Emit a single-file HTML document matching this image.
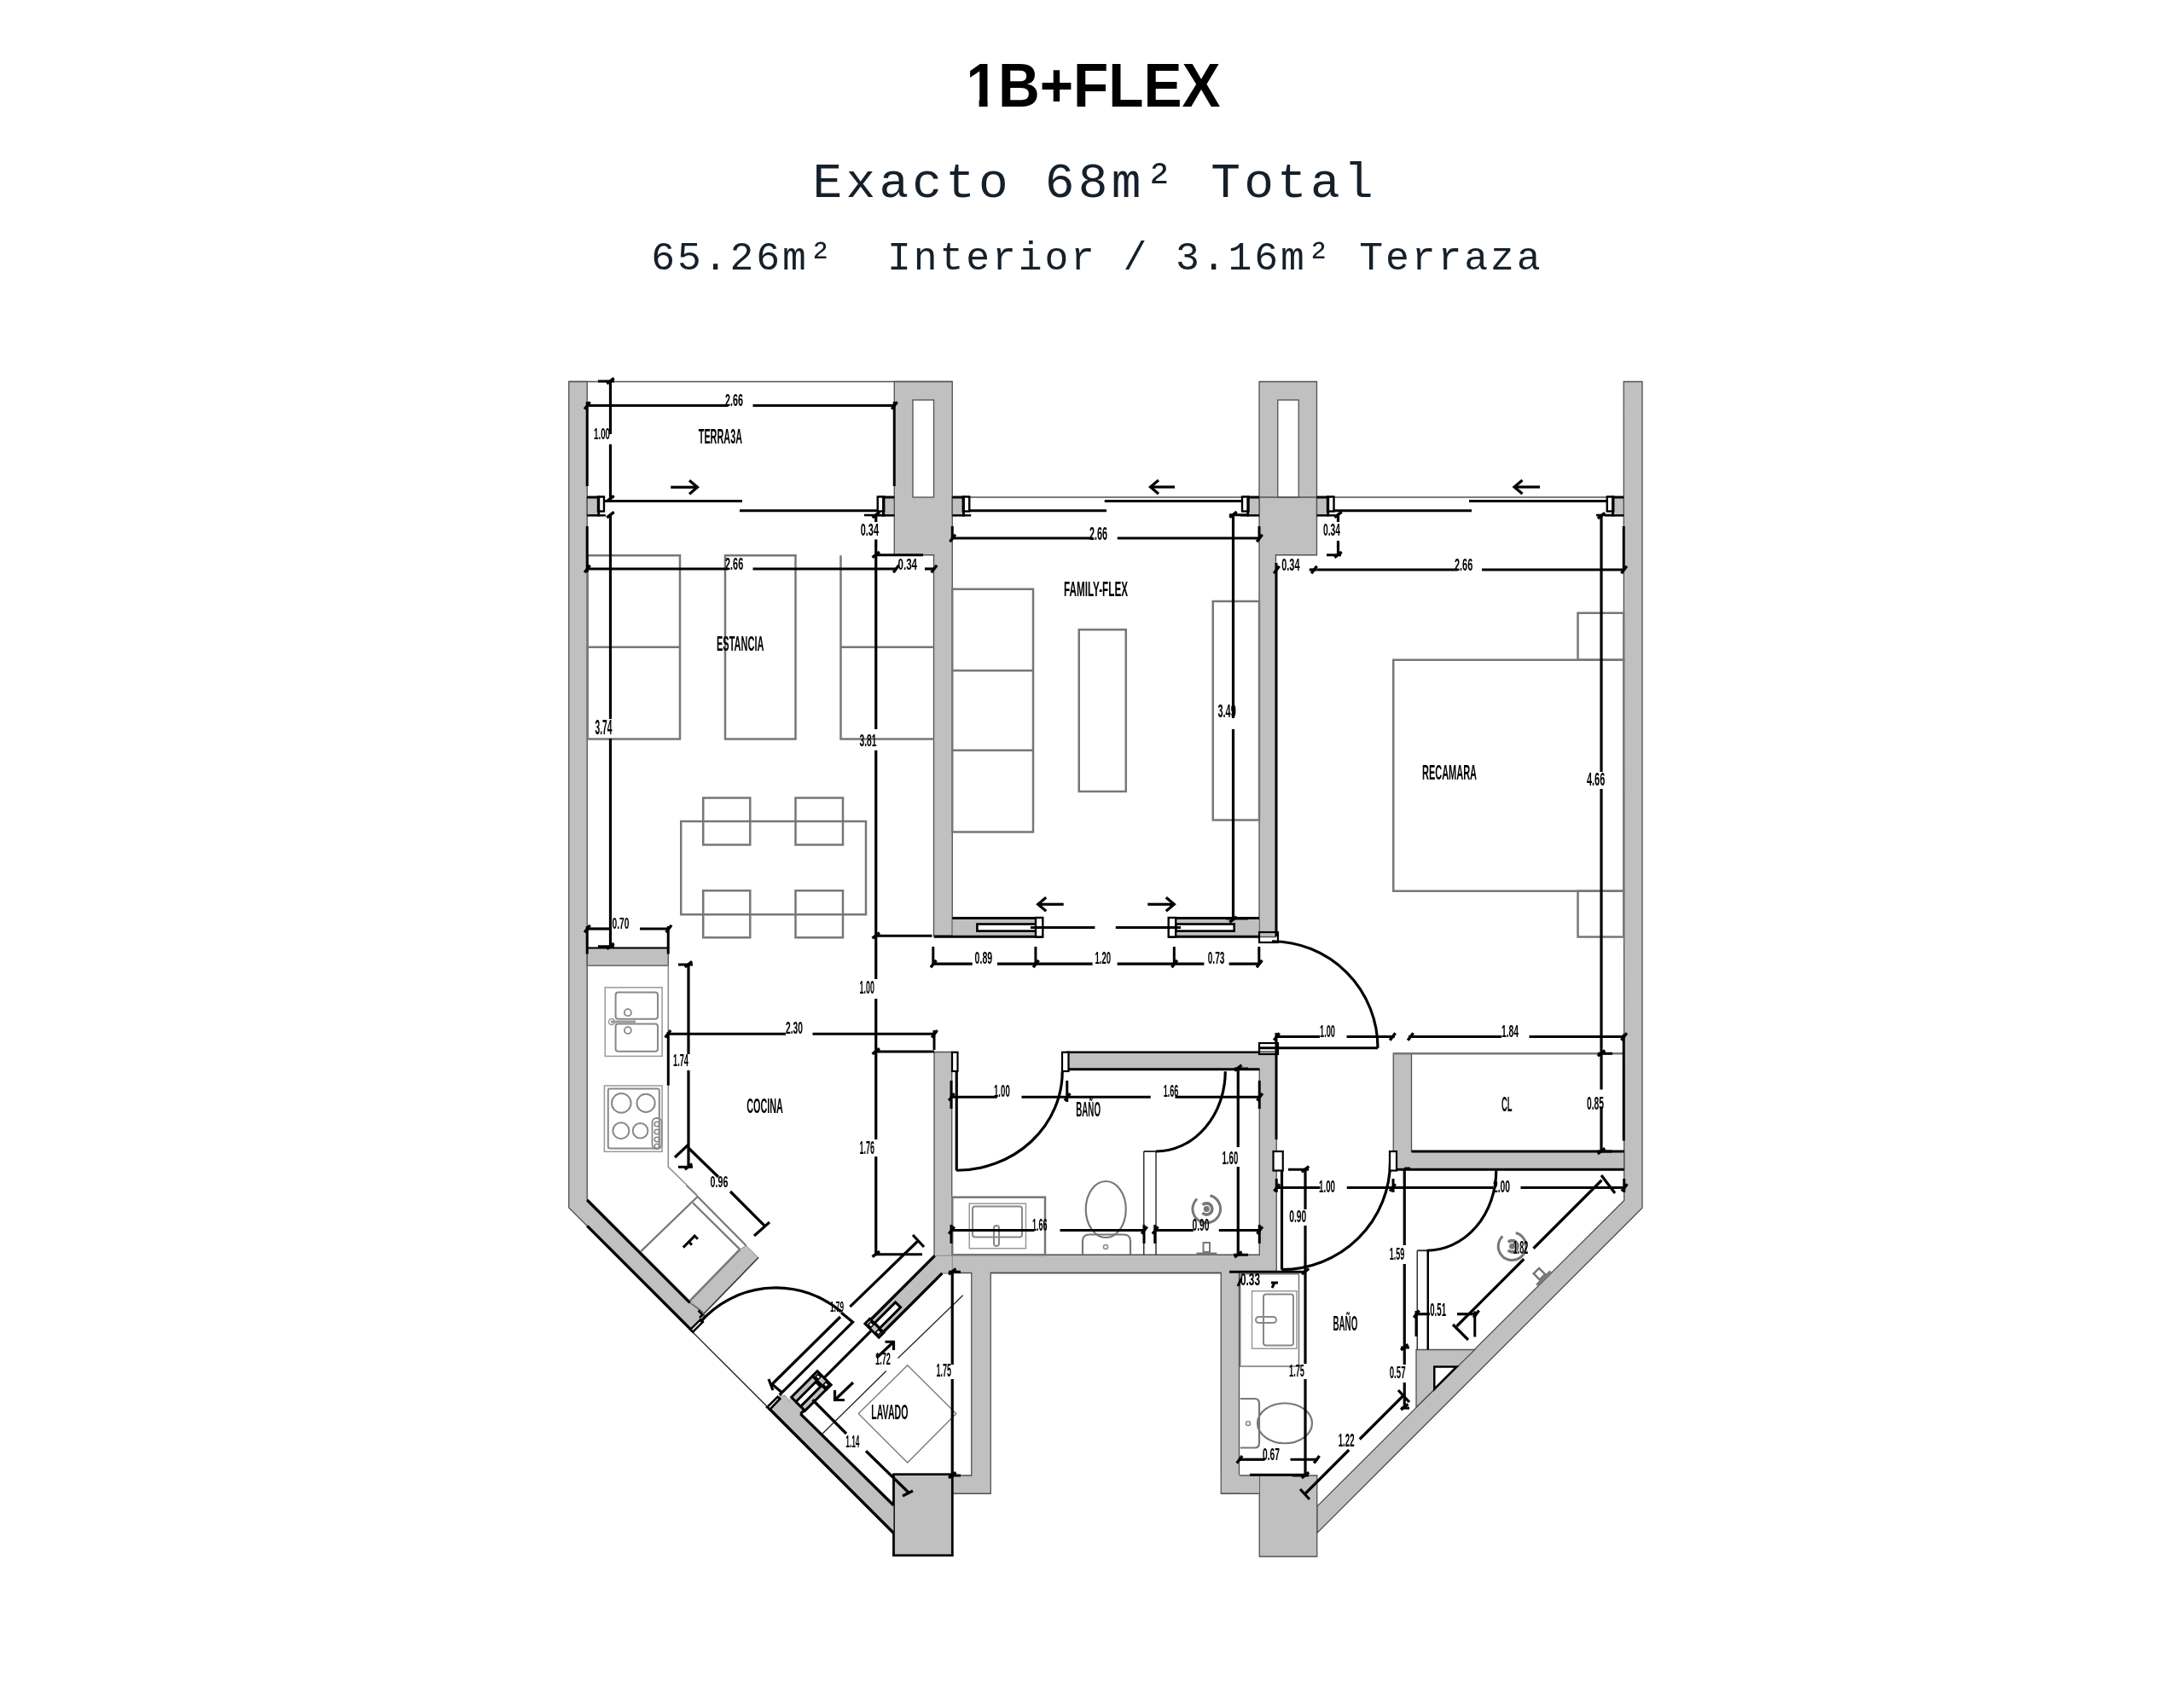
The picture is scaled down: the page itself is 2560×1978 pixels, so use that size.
<!DOCTYPE html>
<html><head><meta charset="utf-8"><style>
html,body{margin:0;padding:0;background:#fff;}
body{width:2560px;height:1978px;overflow:hidden;position:relative;}
svg{position:absolute;left:0;top:0;will-change:transform;}
text{font-family:"Liberation Sans",sans-serif;}
.mono{font-family:"Liberation Mono",monospace;}
</style></head><body>
<svg width="2560" height="1978" viewBox="0 0 2560 1978">
<text x="1132.5" y="125.2" font-size="73" font-weight="bold" fill="#000" textLength="298" lengthAdjust="spacingAndGlyphs">1B+FLEX</text>
<rect x="1134" y="116.6" width="13.6" height="10" fill="#fff"/><rect x="1157.6" y="116.6" width="12.5" height="10" fill="#fff"/>
<text class="mono" x="952.6" y="231" font-size="57.8" fill="#16202a" letter-spacing="4.21">Exacto 68m² Total</text>
<text class="mono" x="763.3" y="315.5" font-size="46.4" fill="#16202a" letter-spacing="2.9" xml:space="preserve">65.26m²  Interior / 3.16m² Terraza</text>
<line x1="666.75" y1="447.5" x2="1116.25" y2="447.5" stroke="#505050" stroke-width="1.5" stroke-linecap="butt"/>
<polygon points="666.75,447.5 688.25,447.5 688.25,1407 808.7,1527.4 825.6,1539.8 823.9,1549.9 810.9,1560 666.75,1416" fill="#c0c0c0" stroke="#505050" stroke-width="1.3" stroke-linejoin="miter"/>
<line x1="688.25" y1="1407" x2="808.7" y2="1527.4" stroke="#000" stroke-width="3.4" stroke-linecap="butt"/>
<line x1="688.25" y1="1437.4" x2="811.5" y2="1560.6" stroke="#000" stroke-width="3.4" stroke-linecap="butt"/>
<polygon points="1048.25,447.5 1116.25,447.5 1116.25,1097.25 1094.5,1097.25 1094.5,650.75 1048.25,650.75" fill="#c0c0c0" stroke="#505050" stroke-width="1.3" stroke-linejoin="miter"/>
<rect x="1070" y="469" width="24.5" height="114" fill="#fff" stroke="#505050" stroke-width="1.3"/>
<polygon points="1476,447.5 1543.5,447.5 1543.5,650.75 1495.5,650.75 1495.5,1098.5 1476,1098.5" fill="#c0c0c0" stroke="#505050" stroke-width="1.3" stroke-linejoin="miter"/>
<rect x="1497.75" y="469" width="24.5" height="114" fill="#fff" stroke="#505050" stroke-width="1.3"/>
<polygon points="1903.25,447.5 1925,447.5 1925,1416.25 1543.75,1797.5 1543.75,1766.25 1903.75,1407.5" fill="#c0c0c0" stroke="#505050" stroke-width="1.3" stroke-linejoin="miter"/>
<line x1="1116.25" y1="583" x2="1903.25" y2="583" stroke="#505050" stroke-width="1.5" stroke-linecap="butt"/>
<polygon points="688.25,583 701,583 701,604.5 688.25,604.5" fill="#c0c0c0" stroke="#505050" stroke-width="1.3" stroke-linejoin="miter"/>
<polygon points="1036.25,583 1048.25,583 1048.25,604.5 1036.25,604.5" fill="#c0c0c0" stroke="#505050" stroke-width="1.3" stroke-linejoin="miter"/>
<polygon points="1116.25,583 1128.75,583 1128.75,604.5 1116.25,604.5" fill="#c0c0c0" stroke="#505050" stroke-width="1.3" stroke-linejoin="miter"/>
<polygon points="1463.5,583 1476,583 1476,604.5 1463.5,604.5" fill="#c0c0c0" stroke="#505050" stroke-width="1.3" stroke-linejoin="miter"/>
<polygon points="1543.5,583 1556,583 1556,604.5 1543.5,604.5" fill="#c0c0c0" stroke="#505050" stroke-width="1.3" stroke-linejoin="miter"/>
<polygon points="1891.25,583 1903.25,583 1903.25,604.5 1891.25,604.5" fill="#c0c0c0" stroke="#505050" stroke-width="1.3" stroke-linejoin="miter"/>
<line x1="688.25" y1="583" x2="708" y2="583" stroke="#000" stroke-width="3" stroke-linecap="butt"/>
<line x1="688.25" y1="604.3" x2="710" y2="604.3" stroke="#000" stroke-width="2.4" stroke-linecap="butt"/>
<rect x="701" y="582.5" width="7" height="17" fill="#fff" stroke="#000" stroke-width="2.4"/>
<line x1="701.8" y1="581.5" x2="701.8" y2="605.5" stroke="#000" stroke-width="2.8" stroke-linecap="butt"/>
<line x1="1028.75" y1="583" x2="1048.25" y2="583" stroke="#000" stroke-width="3" stroke-linecap="butt"/>
<line x1="1026.75" y1="604.3" x2="1048.25" y2="604.3" stroke="#000" stroke-width="2.4" stroke-linecap="butt"/>
<rect x="1028.75" y="582.5" width="7.5" height="17" fill="#fff" stroke="#000" stroke-width="2.4"/>
<line x1="1035.45" y1="581.5" x2="1035.45" y2="605.5" stroke="#000" stroke-width="2.8" stroke-linecap="butt"/>
<line x1="1116.25" y1="583" x2="1136.25" y2="583" stroke="#000" stroke-width="3" stroke-linecap="butt"/>
<line x1="1116.25" y1="604.3" x2="1138.25" y2="604.3" stroke="#000" stroke-width="2.4" stroke-linecap="butt"/>
<rect x="1128.75" y="582.5" width="7.5" height="17" fill="#fff" stroke="#000" stroke-width="2.4"/>
<line x1="1129.55" y1="581.5" x2="1129.55" y2="605.5" stroke="#000" stroke-width="2.8" stroke-linecap="butt"/>
<line x1="1456" y1="583" x2="1476" y2="583" stroke="#000" stroke-width="3" stroke-linecap="butt"/>
<line x1="1454" y1="604.3" x2="1476" y2="604.3" stroke="#000" stroke-width="2.4" stroke-linecap="butt"/>
<rect x="1456" y="582.5" width="7.5" height="17" fill="#fff" stroke="#000" stroke-width="2.4"/>
<line x1="1462.7" y1="581.5" x2="1462.7" y2="605.5" stroke="#000" stroke-width="2.8" stroke-linecap="butt"/>
<line x1="1543.5" y1="583" x2="1563.5" y2="583" stroke="#000" stroke-width="3" stroke-linecap="butt"/>
<line x1="1543.5" y1="604.3" x2="1565.5" y2="604.3" stroke="#000" stroke-width="2.4" stroke-linecap="butt"/>
<rect x="1556" y="582.5" width="7.5" height="17" fill="#fff" stroke="#000" stroke-width="2.4"/>
<line x1="1556.8" y1="581.5" x2="1556.8" y2="605.5" stroke="#000" stroke-width="2.8" stroke-linecap="butt"/>
<line x1="1883.75" y1="583" x2="1903.25" y2="583" stroke="#000" stroke-width="3" stroke-linecap="butt"/>
<line x1="1881.75" y1="604.3" x2="1903.25" y2="604.3" stroke="#000" stroke-width="2.4" stroke-linecap="butt"/>
<rect x="1883.75" y="582.5" width="7.5" height="17" fill="#fff" stroke="#000" stroke-width="2.4"/>
<line x1="1890.45" y1="581.5" x2="1890.45" y2="605.5" stroke="#000" stroke-width="2.8" stroke-linecap="butt"/>
<line x1="709" y1="587.5" x2="870" y2="587.5" stroke="#000" stroke-width="3.2" stroke-linecap="butt"/>
<line x1="867" y1="598.75" x2="1030" y2="598.75" stroke="#000" stroke-width="3.2" stroke-linecap="butt"/>
<line x1="1294.75" y1="587.5" x2="1456" y2="587.5" stroke="#000" stroke-width="3.2" stroke-linecap="butt"/>
<line x1="1136.25" y1="598.75" x2="1297" y2="598.75" stroke="#000" stroke-width="3.2" stroke-linecap="butt"/>
<line x1="1722" y1="587.5" x2="1883.75" y2="587.5" stroke="#000" stroke-width="3.2" stroke-linecap="butt"/>
<line x1="1563.5" y1="598.75" x2="1725" y2="598.75" stroke="#000" stroke-width="3.2" stroke-linecap="butt"/>
<polygon points="1116.25,1076.6 1214,1076.6 1214,1098.2 1094.7,1098.2 1094.7,1097 1116.25,1097" fill="#c0c0c0" stroke="#505050" stroke-width="0.5" stroke-linejoin="miter"/>
<line x1="1116.25" y1="1076.6" x2="1222.3" y2="1076.6" stroke="#000" stroke-width="3" stroke-linecap="butt"/>
<line x1="1094.7" y1="1098.2" x2="1222.3" y2="1098.2" stroke="#000" stroke-width="3" stroke-linecap="butt"/>
<rect x="1145.4" y="1083.5" width="74.1" height="8.1" fill="#fff" stroke="#000" stroke-width="2.6"/>
<rect x="1214" y="1076" width="8.3" height="22.5" fill="#fff" stroke="#000" stroke-width="2.4"/>
<line x1="1208" y1="1087.5" x2="1283.4" y2="1087.5" stroke="#000" stroke-width="3.2" stroke-linecap="butt"/>
<polygon points="1378.2,1076.6 1476,1076.6 1476,1098.2 1378.2,1098.2" fill="#c0c0c0" stroke="#505050" stroke-width="0.5" stroke-linejoin="miter"/>
<line x1="1369.7" y1="1076.6" x2="1476" y2="1076.6" stroke="#000" stroke-width="3" stroke-linecap="butt"/>
<line x1="1369.7" y1="1098.2" x2="1476" y2="1098.2" stroke="#000" stroke-width="3" stroke-linecap="butt"/>
<rect x="1378.2" y="1083.5" width="68.5" height="8.1" fill="#fff" stroke="#000" stroke-width="2.6"/>
<rect x="1369.7" y="1076" width="8.5" height="22.5" fill="#fff" stroke="#000" stroke-width="2.4"/>
<line x1="1307.8" y1="1087.5" x2="1384" y2="1087.5" stroke="#000" stroke-width="3.2" stroke-linecap="butt"/>
<polygon points="688.25,1111.4 783.3,1111.4 783.3,1132.2 688.25,1132.2" fill="#c0c0c0" stroke="#505050" stroke-width="1.3" stroke-linejoin="miter"/>
<line x1="688.25" y1="1111.4" x2="783.3" y2="1111.4" stroke="#000" stroke-width="2" stroke-linecap="butt"/>
<polygon points="1095,1233.5 1115.75,1233.5 1115.75,1471.25 1476.25,1471.25 1476.25,1253.75 1250,1253.75 1250,1233.75 1476.25,1233.75 1476.25,1233 1496.25,1233 1496.25,1491.25 1452.5,1491.25 1452.5,1751.25 1431.25,1751.25 1431.25,1492.5 1161.25,1492.5 1161.25,1751.25 1116.25,1751.25 1116.25,1730 1138.75,1730 1138.75,1492.5 1105,1492.5 1095,1472" fill="#c0c0c0" stroke="#505050" stroke-width="1.3" stroke-linejoin="miter"/>
<line x1="1250" y1="1233.75" x2="1476.25" y2="1233.75" stroke="#000" stroke-width="2.4" stroke-linecap="butt"/>
<line x1="1250" y1="1253.75" x2="1476.25" y2="1253.75" stroke="#000" stroke-width="3" stroke-linecap="butt"/>
<line x1="1161.25" y1="1492.5" x2="1431.25" y2="1492.5" stroke="#505050" stroke-width="1.3" stroke-linecap="butt"/>
<polygon points="1047.5,1728.75 1116.25,1728.75 1116.25,1823.75 1047.5,1823.75" fill="#c0c0c0" stroke="#505050" stroke-width="2.5" stroke-linejoin="miter"/>
<polygon points="1047.5,1728.75 1116.25,1728.75 1116.25,1823.75 1047.5,1823.75" fill="none" stroke="#000" stroke-width="2.6" stroke-linejoin="miter"/>
<polygon points="1476.25,1730 1543.75,1730 1543.75,1825 1476.25,1825" fill="#c0c0c0" stroke="#505050" stroke-width="1.3" stroke-linejoin="miter"/>
<rect x="1431.9" y="1729" width="44" height="21.6" fill="#c0c0c0"/>
<line x1="1431.25" y1="1751.25" x2="1476.25" y2="1751.25" stroke="#505050" stroke-width="1.3" stroke-linecap="butt"/>
<line x1="1452.5" y1="1730" x2="1476.25" y2="1730" stroke="#505050" stroke-width="1.3" stroke-linecap="butt"/>
<polygon points="900.6,1650.4 913,1637 920,1636 925,1642 928,1638.6 944,1654.1 938.4,1657.9 1047.5,1765 1047.5,1797.5" fill="#c0c0c0" stroke="#505050" stroke-width="0.5" stroke-linejoin="miter"/>
<line x1="901" y1="1651" x2="1047.5" y2="1797.5" stroke="#000" stroke-width="3.4" stroke-linecap="butt"/>
<line x1="938.4" y1="1657.9" x2="1047.5" y2="1765" stroke="#000" stroke-width="3.4" stroke-linecap="butt"/>
<polyline points="938.4,1657.9 952,1644" fill="none" stroke="#000" stroke-width="3.4" stroke-linejoin="miter"/>
<polygon points="899.2,1650 911.6,1637.7 914.3,1640 902.7,1652.4" fill="#fff" stroke="#000" stroke-width="2.6" stroke-linejoin="miter"/>
<polygon points="1095.6,1472.4 1116.25,1472 1116.25,1493 1104.4,1492.9 1030.19,1567.51 1015.34,1552.66" fill="#c0c0c0" stroke="#505050" stroke-width="0.5" stroke-linejoin="miter"/>
<line x1="1095.6" y1="1472.4" x2="1019.23" y2="1548.77" stroke="#000" stroke-width="3.4" stroke-linecap="butt"/>
<line x1="1104.37" y1="1492.91" x2="1031.04" y2="1566.23" stroke="#000" stroke-width="3.4" stroke-linecap="butt"/>
<polygon points="1049.64,1526.85 1025.24,1551.24 1031.25,1557.25 1055.65,1532.86" fill="#fff" stroke="#000" stroke-width="3.0" stroke-linejoin="miter"/>
<polygon points="1019.59,1546.29 1013.93,1551.95 1030.19,1568.21 1035.85,1562.56" fill="#c0c0c0" stroke="#000" stroke-width="3.0" stroke-linejoin="miter"/>
<polygon points="1020.79,1550.04 1017.68,1553.15 1020.86,1556.33 1023.97,1553.22" fill="#fff" stroke="#000" stroke-width="1.6" stroke-linejoin="miter"/>
<polygon points="1029.63,1558.88 1026.52,1561.99 1029.7,1565.17 1032.81,1562.06" fill="#fff" stroke="#000" stroke-width="1.6" stroke-linejoin="miter"/>
<polygon points="958.07,1607.81 927.66,1638.22 943.57,1654.13 973.98,1623.72" fill="#c0c0c0" stroke="#000" stroke-width="3.0" stroke-linejoin="miter"/>
<polygon points="956.3,1620.19 932.97,1643.52 938.48,1649.04 961.82,1625.7" fill="#fff" stroke="#000" stroke-width="3.0" stroke-linejoin="miter"/>
<polygon points="958.07,1607.81 952.41,1613.47 968.32,1629.38 973.98,1623.72" fill="#c0c0c0" stroke="#000" stroke-width="3.0" stroke-linejoin="miter"/>
<polygon points="958.77,1611.35 955.95,1614.17 959.13,1617.36 961.96,1614.53" fill="#fff" stroke="#000" stroke-width="1.6" stroke-linejoin="miter"/>
<polygon points="967.97,1620.54 965.14,1623.37 968.32,1626.55 971.15,1623.72" fill="#fff" stroke="#000" stroke-width="1.6" stroke-linejoin="miter"/>
<line x1="1021.85" y1="1559.59" x2="965.35" y2="1616.08" stroke="#000" stroke-width="3.2" stroke-linecap="butt"/>
<polygon points="1633.25,1235 1654.5,1235 1654.5,1350 1903.75,1350 1903.75,1371.25 1633.25,1371.25" fill="#c0c0c0" stroke="#505050" stroke-width="1.3" stroke-linejoin="miter"/>
<line x1="1654.5" y1="1350" x2="1903.75" y2="1350" stroke="#000" stroke-width="3" stroke-linecap="butt"/>
<line x1="1633.25" y1="1371.25" x2="1903.75" y2="1371.25" stroke="#000" stroke-width="3" stroke-linecap="butt"/>
<line x1="1633.25" y1="1235.25" x2="1903" y2="1235.25" stroke="#777" stroke-width="2.5" stroke-linecap="butt"/>
<polygon points="1660,1582.5 1728.75,1582.5 1660,1650" fill="#c0c0c0" stroke="#505050" stroke-width="1.3" stroke-linejoin="miter"/>
<polygon points="1681.25,1602.5 1707.5,1602.5 1681.25,1628.75" fill="#fff" stroke="#000" stroke-width="2.5" stroke-linejoin="miter"/>
<rect x="688.75" y="651.25" width="108.25" height="215.25" fill="none" stroke="#777" stroke-width="2.5"/>
<line x1="688.75" y1="758.75" x2="797" y2="758.75" stroke="#777" stroke-width="2.5" stroke-linecap="butt"/>
<rect x="850" y="651.25" width="82.5" height="215.25" fill="none" stroke="#777" stroke-width="2.5"/>
<polyline points="985.5,651.25 985.5,866.5 1094.5,866.5" fill="none" stroke="#777" stroke-width="2.5" stroke-linejoin="miter"/>
<line x1="985.5" y1="758.75" x2="1094.5" y2="758.75" stroke="#777" stroke-width="2.5" stroke-linecap="butt"/>
<rect x="798.25" y="963" width="216.75" height="109.25" fill="none" stroke="#777" stroke-width="2.5"/>
<rect x="824.25" y="935.5" width="55" height="55" fill="none" stroke="#777" stroke-width="2.5"/>
<rect x="824.25" y="1044.25" width="55" height="55" fill="none" stroke="#777" stroke-width="2.5"/>
<rect x="932.5" y="935.5" width="55.5" height="55" fill="none" stroke="#777" stroke-width="2.5"/>
<rect x="932.5" y="1044.25" width="55.5" height="55" fill="none" stroke="#777" stroke-width="2.5"/>
<rect x="1116.25" y="690.75" width="94.75" height="284.75" fill="none" stroke="#777" stroke-width="2.5"/>
<line x1="1116.25" y1="786.25" x2="1211" y2="786.25" stroke="#777" stroke-width="2.5" stroke-linecap="butt"/>
<line x1="1116.25" y1="879.75" x2="1211" y2="879.75" stroke="#777" stroke-width="2.5" stroke-linecap="butt"/>
<rect x="1264.75" y="738.25" width="55" height="189.75" fill="none" stroke="#777" stroke-width="2.5"/>
<rect x="1421.75" y="705" width="54.25" height="256.5" fill="none" stroke="#777" stroke-width="2.5"/>
<rect x="1633.25" y="773.75" width="270" height="271" fill="none" stroke="#777" stroke-width="2.5"/>
<rect x="1849.5" y="718.75" width="53.75" height="55" fill="none" stroke="#777" stroke-width="2.5"/>
<rect x="1849.5" y="1044.75" width="53.75" height="53.75" fill="none" stroke="#777" stroke-width="2.5"/>
<polyline points="783.3,1132.2 783.3,1368.3 817.4,1401.5" fill="none" stroke="#888" stroke-width="1.5" stroke-linejoin="miter"/>
<rect x="709.3" y="1157.8" width="66.8" height="80.6" fill="none" stroke="#999" stroke-width="1.5"/>
<rect x="721.6" y="1163.5" width="49.4" height="31.3" rx="3" fill="none" stroke="#888" stroke-width="2"/>
<rect x="721.6" y="1200.5" width="49.4" height="32.3" rx="3" fill="none" stroke="#888" stroke-width="2"/>
<circle cx="735.9" cy="1187.2" r="4" fill="none" stroke="#888" stroke-width="1.8"/>
<circle cx="735.9" cy="1208.1" r="4" fill="none" stroke="#888" stroke-width="1.8"/>
<line x1="716" y1="1198" x2="745" y2="1198" stroke="#999" stroke-width="3" stroke-linecap="butt"/>
<circle cx="717" cy="1198" r="3.5" fill="none" stroke="#999" stroke-width="1.5"/>
<rect x="708.4" y="1273" width="67.7" height="77.3" fill="none" stroke="#999" stroke-width="1.5"/>
<rect x="712.8" y="1276.5" width="60" height="70" rx="2" fill="none" stroke="#888" stroke-width="2"/>
<circle cx="728.3" cy="1293.4" r="11.3" fill="none" stroke="#888" stroke-width="2"/>
<circle cx="757.1" cy="1293.4" r="10.6" fill="none" stroke="#888" stroke-width="2"/>
<circle cx="727.9" cy="1325.7" r="9.5" fill="none" stroke="#888" stroke-width="2"/>
<circle cx="750.6" cy="1325.7" r="8.8" fill="none" stroke="#888" stroke-width="2"/>
<rect x="764.5" y="1311" width="11" height="36" rx="5" fill="none" stroke="#888" stroke-width="1.8"/>
<circle cx="770" cy="1318" r="2.8" fill="none" stroke="#888" stroke-width="1.6"/>
<circle cx="770" cy="1327" r="2.8" fill="none" stroke="#888" stroke-width="1.6"/>
<circle cx="770" cy="1336" r="2.8" fill="none" stroke="#888" stroke-width="1.6"/>
<circle cx="770" cy="1344" r="2.8" fill="none" stroke="#888" stroke-width="1.6"/>
<polyline points="751.3,1467.1 817.7,1403 874.6,1460.4" fill="none" stroke="#777" stroke-width="2.2" stroke-linejoin="miter"/>
<line x1="812" y1="1410.3" x2="867.3" y2="1464.9" stroke="#777" stroke-width="2.2" stroke-linecap="butt"/>
<polygon points="867.3,1464.9 874.6,1460.4 889,1474.5 825.6,1539.8 808.7,1525.1" fill="#c0c0c0" stroke="#505050" stroke-width="0.6" stroke-linejoin="miter"/>
<line x1="889" y1="1474.5" x2="825.6" y2="1539.8" stroke="#333" stroke-width="1.6" stroke-linecap="butt"/>
<line x1="867.3" y1="1464.9" x2="808.7" y2="1525.1" stroke="#777" stroke-width="2.5" stroke-linecap="butt"/>
<line x1="800.8" y1="1462.6" x2="814.3" y2="1449.1" stroke="#000" stroke-width="3" stroke-linecap="butt"/>
<line x1="813.2" y1="1448" x2="817.9" y2="1452.7" stroke="#000" stroke-width="3" stroke-linecap="butt"/>
<line x1="807.6" y1="1456.2" x2="811" y2="1459.6" stroke="#000" stroke-width="3" stroke-linecap="butt"/>
<rect x="1116.25" y="1403.75" width="108.75" height="67.5" fill="none" stroke="#777" stroke-width="2.5"/>
<rect x="1136.25" y="1411.25" width="66.25" height="52.5" fill="none" stroke="#999" stroke-width="1.5"/>
<rect x="1140" y="1414.5" width="58" height="36" rx="3" fill="none" stroke="#888" stroke-width="2"/>
<rect x="1165" y="1437" width="6" height="24" rx="3" fill="none" stroke="#888" stroke-width="2"/>
<ellipse cx="1296.25" cy="1418" rx="23.5" ry="33" fill="none" stroke="#777" stroke-width="2.2"/>
<path d="M1269,1471 L1269,1455 Q1269,1447.5 1277,1447.5 L1317,1447.5 Q1325,1447.5 1325,1455 L1325,1471" fill="none" stroke="#777" stroke-width="2.2"/>
<circle cx="1296" cy="1462" r="2.5" fill="none" stroke="#888" stroke-width="1.5"/>
<line x1="1340.75" y1="1350" x2="1340.75" y2="1471.25" stroke="#333" stroke-width="1.5" stroke-linecap="butt"/>
<line x1="1355" y1="1350" x2="1355" y2="1471.25" stroke="#333" stroke-width="1.5" stroke-linecap="butt"/>
<line x1="1340.75" y1="1350" x2="1355" y2="1350" stroke="#333" stroke-width="2" stroke-linecap="butt"/>
<circle cx="1414.25" cy="1417.5" r="16.3" fill="none" stroke="#777" stroke-width="3" stroke-dasharray="85.3 17.1" transform="rotate(-75 1414.25 1417.5)"/><circle cx="1414.25" cy="1417.5" r="6.6" fill="none" stroke="#777" stroke-width="3.6" stroke-dasharray="31 10.5" transform="rotate(-135 1414.25 1417.5)"/>
<circle cx="1414.25" cy="1417.5" r="3.5" fill="#777" stroke="#777" stroke-width="0"/>
<rect x="1410.5" y="1457" width="7.5" height="11" fill="none" stroke="#777" stroke-width="2"/>
<line x1="1402.5" y1="1470" x2="1426.25" y2="1470" stroke="#777" stroke-width="3" stroke-linecap="butt"/>
<rect x="1453.75" y="1493.75" width="68.75" height="108.25" fill="none" stroke="#777" stroke-width="1.5"/>
<rect x="1467.5" y="1513.75" width="52.5" height="67.5" fill="none" stroke="#999" stroke-width="1.5"/>
<rect x="1481" y="1517.5" width="35" height="60" rx="3" fill="none" stroke="#888" stroke-width="2"/>
<rect x="1472" y="1544" width="24" height="7" rx="3.5" fill="none" stroke="#888" stroke-width="2"/>
<path d="M1453.75,1640 L1471,1640 Q1476,1640 1476,1646 L1476,1692 Q1476,1697.5 1471,1697.5 L1453.75,1697.5" fill="none" stroke="#777" stroke-width="2.2"/>
<ellipse cx="1506" cy="1668.75" rx="32" ry="23.5" fill="none" stroke="#777" stroke-width="2.2"/>
<circle cx="1463" cy="1669" r="2.5" fill="none" stroke="#888" stroke-width="1.5"/>
<line x1="1661.25" y1="1466.25" x2="1661.25" y2="1582.5" stroke="#333" stroke-width="1.5" stroke-linecap="butt"/>
<line x1="1673.75" y1="1466.25" x2="1673.75" y2="1582.5" stroke="#000" stroke-width="2.5" stroke-linecap="butt"/>
<line x1="1661.25" y1="1466.25" x2="1673.75" y2="1466.25" stroke="#333" stroke-width="2" stroke-linecap="butt"/>
<circle cx="1772.5" cy="1461.25" r="16.3" fill="none" stroke="#777" stroke-width="3" stroke-dasharray="85.3 17.1" transform="rotate(-75 1772.5 1461.25)"/><circle cx="1772.5" cy="1461.25" r="6.6" fill="none" stroke="#777" stroke-width="3.6" stroke-dasharray="31 10.5" transform="rotate(-135 1772.5 1461.25)"/>
<circle cx="1772.5" cy="1461.25" r="3.5" fill="#777" stroke="#777" stroke-width="0"/>
<g transform="translate(1809,1499) rotate(-45)"><rect x="-4" y="-12" width="9" height="10" fill="none" stroke="#777" stroke-width="2.5"/><line x1="-11" y1="0" x2="12" y2="0" stroke="#777" stroke-width="3"/></g>
<polygon points="1063.75,1600.75 1120.75,1657.5 1063.75,1715 1006.25,1657.5" fill="none" stroke="#777" stroke-width="1.3" stroke-linejoin="miter"/>
<line x1="1128.75" y1="1518.75" x2="1052.5" y2="1592.5" stroke="#222" stroke-width="1.3" stroke-linecap="butt"/>
<line x1="1038.75" y1="1607.5" x2="963.75" y2="1681.25" stroke="#222" stroke-width="1.3" stroke-linecap="butt"/>
<line x1="812" y1="1562" x2="900" y2="1650" stroke="#222" stroke-width="1.3" stroke-linecap="butt"/>
<polygon points="809.3,1558.9 821.1,1547.1 823.9,1549.9 812.1,1561.7" fill="#fff" stroke="#000" stroke-width="2.4" stroke-linejoin="miter"/>
<polyline points="818.5,1536.5 823.5,1541.5 820,1545" fill="none" stroke="#000" stroke-width="2.6" stroke-linejoin="miter"/>
<line x1="804.2" y1="1390" x2="817.7" y2="1403" stroke="#888" stroke-width="1.3" stroke-linecap="butt"/>
<line x1="687.5" y1="475.5" x2="853.75" y2="475.5" stroke="#000" stroke-width="3.2" stroke-linecap="butt"/>
<line x1="882.5" y1="475.5" x2="1048" y2="475.5" stroke="#000" stroke-width="3.2" stroke-linecap="butt"/>
<text x="850" y="476" font-size="19.62" textLength="21" lengthAdjust="spacingAndGlyphs" fill="#000" font-weight="bold">2.66</text>
<line x1="685.2" y1="479.7" x2="691.6" y2="471.3" stroke="#000" stroke-width="3.4" stroke-linecap="butt"/>
<line x1="1045.2" y1="479.7" x2="1051.6" y2="471.3" stroke="#000" stroke-width="3.4" stroke-linecap="butt"/>
<line x1="688.25" y1="471" x2="688.25" y2="570" stroke="#000" stroke-width="3" stroke-linecap="butt"/>
<line x1="1048.25" y1="471" x2="1048.25" y2="570" stroke="#000" stroke-width="3" stroke-linecap="butt"/>
<line x1="715.5" y1="447" x2="715.5" y2="509" stroke="#000" stroke-width="3.2" stroke-linecap="butt"/>
<line x1="715.5" y1="521" x2="715.5" y2="585" stroke="#000" stroke-width="3.2" stroke-linecap="butt"/>
<text x="696" y="515" font-size="18.17" textLength="19" lengthAdjust="spacingAndGlyphs" fill="#000" font-weight="bold">1.00</text>
<line x1="711.3" y1="449.8" x2="719.7" y2="443.4" stroke="#000" stroke-width="3.4" stroke-linecap="butt"/>
<line x1="711.3" y1="587.8" x2="719.7" y2="581.4" stroke="#000" stroke-width="3.4" stroke-linecap="butt"/>
<line x1="701" y1="447" x2="720" y2="447" stroke="#000" stroke-width="3" stroke-linecap="butt"/>
<line x1="687.5" y1="667" x2="853.75" y2="667" stroke="#000" stroke-width="3.2" stroke-linecap="butt"/>
<line x1="882.5" y1="667" x2="1050" y2="667" stroke="#000" stroke-width="3.2" stroke-linecap="butt"/>
<text x="850" y="667.5" font-size="19.99" textLength="21.25" lengthAdjust="spacingAndGlyphs" fill="#000" font-weight="bold">2.66</text>
<line x1="685.2" y1="671.2" x2="691.6" y2="662.8" stroke="#000" stroke-width="3.4" stroke-linecap="butt"/>
<line x1="1047.2" y1="671.2" x2="1053.6" y2="662.8" stroke="#000" stroke-width="3.4" stroke-linecap="butt"/>
<line x1="688.25" y1="617" x2="688.25" y2="671" stroke="#000" stroke-width="3" stroke-linecap="butt"/>
<line x1="715.5" y1="604" x2="715.5" y2="843" stroke="#000" stroke-width="3.2" stroke-linecap="butt"/>
<line x1="715.5" y1="866" x2="715.5" y2="1109.75" stroke="#000" stroke-width="3.2" stroke-linecap="butt"/>
<text x="697.5" y="861" font-size="23.26" textLength="20" lengthAdjust="spacingAndGlyphs" fill="#000" font-weight="bold">3.74</text>
<line x1="711.3" y1="606.8" x2="719.7" y2="600.4" stroke="#000" stroke-width="3.4" stroke-linecap="butt"/>
<line x1="711.3" y1="1112.55" x2="719.7" y2="1106.15" stroke="#000" stroke-width="3.4" stroke-linecap="butt"/>
<line x1="701" y1="1109.75" x2="720" y2="1109.75" stroke="#000" stroke-width="3" stroke-linecap="butt"/>
<line x1="1026.75" y1="604" x2="1026.75" y2="612" stroke="#000" stroke-width="3.2" stroke-linecap="butt"/>
<line x1="1026.75" y1="632.5" x2="1026.75" y2="855" stroke="#000" stroke-width="3.2" stroke-linecap="butt"/>
<line x1="1026.75" y1="879.75" x2="1026.75" y2="1148" stroke="#000" stroke-width="3.2" stroke-linecap="butt"/>
<line x1="1026.75" y1="1171" x2="1026.75" y2="1336" stroke="#000" stroke-width="3.2" stroke-linecap="butt"/>
<line x1="1026.75" y1="1356" x2="1026.75" y2="1470.75" stroke="#000" stroke-width="3.2" stroke-linecap="butt"/>
<text x="1008.75" y="627.5" font-size="19.99" textLength="21.25" lengthAdjust="spacingAndGlyphs" fill="#000" font-weight="bold">0.34</text>
<text x="1007.5" y="874.75" font-size="19.99" textLength="20" lengthAdjust="spacingAndGlyphs" fill="#000" font-weight="bold">3.81</text>
<text x="1007.5" y="1165" font-size="21.8" textLength="17.5" lengthAdjust="spacingAndGlyphs" fill="#000" font-weight="bold">1.00</text>
<text x="1007.5" y="1353" font-size="21.8" textLength="17.5" lengthAdjust="spacingAndGlyphs" fill="#000" font-weight="bold">1.76</text>
<line x1="1022.55" y1="606.8" x2="1030.95" y2="600.4" stroke="#000" stroke-width="3.4" stroke-linecap="butt"/>
<line x1="1022.55" y1="653.55" x2="1030.95" y2="647.15" stroke="#000" stroke-width="3.4" stroke-linecap="butt"/>
<line x1="1022.55" y1="1100.05" x2="1030.95" y2="1093.65" stroke="#000" stroke-width="3.4" stroke-linecap="butt"/>
<line x1="1022.55" y1="1235.8" x2="1030.95" y2="1229.4" stroke="#000" stroke-width="3.4" stroke-linecap="butt"/>
<line x1="1022.55" y1="1473.55" x2="1030.95" y2="1467.15" stroke="#000" stroke-width="3.4" stroke-linecap="butt"/>
<line x1="1026.75" y1="650.75" x2="1082" y2="650.75" stroke="#000" stroke-width="3" stroke-linecap="butt"/>
<line x1="1026.75" y1="1097.25" x2="1092.5" y2="1097.25" stroke="#000" stroke-width="3" stroke-linecap="butt"/>
<line x1="1026.75" y1="1233" x2="1095" y2="1233" stroke="#000" stroke-width="3" stroke-linecap="butt"/>
<line x1="1026.75" y1="1470.75" x2="1081" y2="1470.75" stroke="#000" stroke-width="3" stroke-linecap="butt"/>
<line x1="1013" y1="604" x2="1038" y2="604" stroke="#000" stroke-width="2.6" stroke-linecap="butt"/>
<line x1="1084" y1="667" x2="1094.5" y2="667" stroke="#000" stroke-width="3.2" stroke-linecap="butt"/>
<text x="1052.5" y="667.5" font-size="18.17" textLength="22.5" lengthAdjust="spacingAndGlyphs" fill="#000" font-weight="bold">0.34</text>
<line x1="1091.7" y1="671.2" x2="1098.1" y2="662.8" stroke="#000" stroke-width="3.4" stroke-linecap="butt"/>
<line x1="1116.25" y1="631" x2="1281" y2="631" stroke="#000" stroke-width="3.2" stroke-linecap="butt"/>
<line x1="1309.75" y1="631" x2="1476" y2="631" stroke="#000" stroke-width="3.2" stroke-linecap="butt"/>
<text x="1277" y="632.5" font-size="21.8" textLength="21" lengthAdjust="spacingAndGlyphs" fill="#000" font-weight="bold">2.66</text>
<line x1="1113.45" y1="635.2" x2="1119.85" y2="626.8" stroke="#000" stroke-width="3.4" stroke-linecap="butt"/>
<line x1="1473.2" y1="635.2" x2="1479.6" y2="626.8" stroke="#000" stroke-width="3.4" stroke-linecap="butt"/>
<line x1="1116.25" y1="617" x2="1116.25" y2="631" stroke="#000" stroke-width="3" stroke-linecap="butt"/>
<line x1="1476" y1="617" x2="1476" y2="631" stroke="#000" stroke-width="3" stroke-linecap="butt"/>
<line x1="1568.5" y1="603.75" x2="1568.5" y2="612" stroke="#000" stroke-width="3.2" stroke-linecap="butt"/>
<line x1="1568.5" y1="634" x2="1568.5" y2="650.75" stroke="#000" stroke-width="3.2" stroke-linecap="butt"/>
<text x="1551" y="627.5" font-size="19.99" textLength="20" lengthAdjust="spacingAndGlyphs" fill="#000" font-weight="bold">0.34</text>
<line x1="1564.3" y1="606.55" x2="1572.7" y2="600.15" stroke="#000" stroke-width="3.4" stroke-linecap="butt"/>
<line x1="1564.3" y1="653.55" x2="1572.7" y2="647.15" stroke="#000" stroke-width="3.4" stroke-linecap="butt"/>
<line x1="1555" y1="650.75" x2="1572" y2="650.75" stroke="#000" stroke-width="3" stroke-linecap="butt"/>
<line x1="1534.75" y1="668" x2="1543.5" y2="668" stroke="#000" stroke-width="3.2" stroke-linecap="butt"/>
<line x1="1543.5" y1="668" x2="1708.75" y2="668" stroke="#000" stroke-width="3.2" stroke-linecap="butt"/>
<line x1="1737" y1="668" x2="1903.25" y2="668" stroke="#000" stroke-width="3.2" stroke-linecap="butt"/>
<text x="1502.25" y="668.75" font-size="19.99" textLength="21.25" lengthAdjust="spacingAndGlyphs" fill="#000" font-weight="bold">0.34</text>
<text x="1705" y="668.75" font-size="19.99" textLength="21.25" lengthAdjust="spacingAndGlyphs" fill="#000" font-weight="bold">2.66</text>
<line x1="1493.2" y1="672.2" x2="1499.6" y2="663.8" stroke="#000" stroke-width="3.4" stroke-linecap="butt"/>
<line x1="1537.2" y1="672.2" x2="1543.6" y2="663.8" stroke="#000" stroke-width="3.4" stroke-linecap="butt"/>
<line x1="1900.45" y1="672.2" x2="1906.85" y2="663.8" stroke="#000" stroke-width="3.4" stroke-linecap="butt"/>
<line x1="1496" y1="660" x2="1496" y2="1098" stroke="#000" stroke-width="3" stroke-linecap="butt"/>
<line x1="1496" y1="1211" x2="1496" y2="1336" stroke="#000" stroke-width="3" stroke-linecap="butt"/>
<line x1="1903.25" y1="617" x2="1903.25" y2="668" stroke="#000" stroke-width="3" stroke-linecap="butt"/>
<line x1="1445.5" y1="603.75" x2="1445.5" y2="842" stroke="#000" stroke-width="3.2" stroke-linecap="butt"/>
<line x1="1445.5" y1="855" x2="1445.5" y2="1078.5" stroke="#000" stroke-width="3.2" stroke-linecap="butt"/>
<text x="1427.5" y="841.25" font-size="21.8" textLength="21.25" lengthAdjust="spacingAndGlyphs" fill="#000" font-weight="bold">3.49</text>
<line x1="1441.3" y1="606.55" x2="1449.7" y2="600.15" stroke="#000" stroke-width="3.4" stroke-linecap="butt"/>
<line x1="1441.3" y1="1081.3" x2="1449.7" y2="1074.9" stroke="#000" stroke-width="3.4" stroke-linecap="butt"/>
<line x1="1441" y1="603.75" x2="1463.5" y2="603.75" stroke="#000" stroke-width="3" stroke-linecap="butt"/>
<line x1="1437" y1="1077" x2="1463" y2="1077" stroke="#000" stroke-width="3" stroke-linecap="butt"/>
<line x1="1877" y1="605" x2="1877" y2="905" stroke="#000" stroke-width="3.2" stroke-linecap="butt"/>
<line x1="1877" y1="925" x2="1877" y2="1277.5" stroke="#000" stroke-width="3.2" stroke-linecap="butt"/>
<line x1="1877" y1="1297.5" x2="1877" y2="1350" stroke="#000" stroke-width="3.2" stroke-linecap="butt"/>
<text x="1860" y="921" font-size="21.8" textLength="21.25" lengthAdjust="spacingAndGlyphs" fill="#000" font-weight="bold">4.66</text>
<text x="1860" y="1301" font-size="21.8" textLength="20" lengthAdjust="spacingAndGlyphs" fill="#000" font-weight="bold">0.85</text>
<line x1="1872.8" y1="607.8" x2="1881.2" y2="601.4" stroke="#000" stroke-width="3.4" stroke-linecap="butt"/>
<line x1="1872.8" y1="1238.05" x2="1881.2" y2="1231.65" stroke="#000" stroke-width="3.4" stroke-linecap="butt"/>
<line x1="1872.8" y1="1352.8" x2="1881.2" y2="1346.4" stroke="#000" stroke-width="3.4" stroke-linecap="butt"/>
<line x1="1873" y1="1235.25" x2="1890" y2="1235.25" stroke="#000" stroke-width="3" stroke-linecap="butt"/>
<line x1="1873" y1="1350" x2="1890" y2="1350" stroke="#000" stroke-width="3" stroke-linecap="butt"/>
<line x1="1871" y1="604" x2="1889" y2="604" stroke="#000" stroke-width="2.6" stroke-linecap="butt"/>
<line x1="1903.25" y1="1212.5" x2="1903.25" y2="1337.5" stroke="#000" stroke-width="3" stroke-linecap="butt"/>
<line x1="1093.8" y1="1130.1" x2="1139.7" y2="1130.1" stroke="#000" stroke-width="3.2" stroke-linecap="butt"/>
<line x1="1168.9" y1="1130.1" x2="1213.9" y2="1130.1" stroke="#000" stroke-width="3.2" stroke-linecap="butt"/>
<line x1="1213.9" y1="1130.1" x2="1280.6" y2="1130.1" stroke="#000" stroke-width="3.2" stroke-linecap="butt"/>
<line x1="1309.6" y1="1130.1" x2="1376.3" y2="1130.1" stroke="#000" stroke-width="3.2" stroke-linecap="butt"/>
<line x1="1376.3" y1="1130.1" x2="1411.4" y2="1130.1" stroke="#000" stroke-width="3.2" stroke-linecap="butt"/>
<line x1="1440.6" y1="1130.1" x2="1475.8" y2="1130.1" stroke="#000" stroke-width="3.2" stroke-linecap="butt"/>
<text x="1142.6" y="1130.1" font-size="20.49" textLength="20.6" lengthAdjust="spacingAndGlyphs" fill="#000" font-weight="bold">0.89</text>
<text x="1283.4" y="1130.1" font-size="20.49" textLength="18.7" lengthAdjust="spacingAndGlyphs" fill="#000" font-weight="bold">1.20</text>
<text x="1415.7" y="1130.1" font-size="20.49" textLength="19.7" lengthAdjust="spacingAndGlyphs" fill="#000" font-weight="bold">0.73</text>
<line x1="1091" y1="1134.3" x2="1097.4" y2="1125.9" stroke="#000" stroke-width="3.4" stroke-linecap="butt"/>
<line x1="1211.1" y1="1134.3" x2="1217.5" y2="1125.9" stroke="#000" stroke-width="3.4" stroke-linecap="butt"/>
<line x1="1373.5" y1="1134.3" x2="1379.9" y2="1125.9" stroke="#000" stroke-width="3.4" stroke-linecap="butt"/>
<line x1="1473" y1="1134.3" x2="1479.4" y2="1125.9" stroke="#000" stroke-width="3.4" stroke-linecap="butt"/>
<line x1="1093.8" y1="1110" x2="1093.8" y2="1130" stroke="#000" stroke-width="3" stroke-linecap="butt"/>
<line x1="1213.9" y1="1110" x2="1213.9" y2="1130" stroke="#000" stroke-width="3" stroke-linecap="butt"/>
<line x1="1376.3" y1="1110" x2="1376.3" y2="1130" stroke="#000" stroke-width="3" stroke-linecap="butt"/>
<line x1="1475.8" y1="1110" x2="1475.8" y2="1130" stroke="#000" stroke-width="3" stroke-linecap="butt"/>
<line x1="687.5" y1="1089" x2="716.5" y2="1089" stroke="#000" stroke-width="3.2" stroke-linecap="butt"/>
<line x1="750" y1="1089" x2="783.75" y2="1089" stroke="#000" stroke-width="3.2" stroke-linecap="butt"/>
<text x="717.5" y="1089" font-size="18.9" textLength="20" lengthAdjust="spacingAndGlyphs" fill="#000" font-weight="bold">0.70</text>
<line x1="685.2" y1="1093.2" x2="691.6" y2="1084.8" stroke="#000" stroke-width="3.4" stroke-linecap="butt"/>
<line x1="780.7" y1="1093.2" x2="787.1" y2="1084.8" stroke="#000" stroke-width="3.4" stroke-linecap="butt"/>
<line x1="688.25" y1="1086" x2="688.25" y2="1118.5" stroke="#000" stroke-width="3" stroke-linecap="butt"/>
<line x1="783.25" y1="1086" x2="783.25" y2="1118.5" stroke="#000" stroke-width="3" stroke-linecap="butt"/>
<line x1="782.5" y1="1212.25" x2="921" y2="1212.25" stroke="#000" stroke-width="3.2" stroke-linecap="butt"/>
<line x1="952.5" y1="1212.25" x2="1095" y2="1212.25" stroke="#000" stroke-width="3.2" stroke-linecap="butt"/>
<text x="921" y="1212.25" font-size="20.71" textLength="20" lengthAdjust="spacingAndGlyphs" fill="#000" font-weight="bold">2.30</text>
<line x1="779.7" y1="1216.45" x2="786.1" y2="1208.05" stroke="#000" stroke-width="3.4" stroke-linecap="butt"/>
<line x1="1092.2" y1="1216.45" x2="1098.6" y2="1208.05" stroke="#000" stroke-width="3.4" stroke-linecap="butt"/>
<line x1="1095" y1="1208" x2="1095" y2="1231" stroke="#000" stroke-width="3" stroke-linecap="butt"/>
<line x1="783.3" y1="1210" x2="783.3" y2="1272.6" stroke="#000" stroke-width="3" stroke-linecap="butt"/>
<line x1="807" y1="1131" x2="807" y2="1236" stroke="#000" stroke-width="3.2" stroke-linecap="butt"/>
<line x1="807" y1="1255" x2="807" y2="1368.3" stroke="#000" stroke-width="3.2" stroke-linecap="butt"/>
<text x="789" y="1250" font-size="20.35" textLength="18" lengthAdjust="spacingAndGlyphs" fill="#000" font-weight="bold">1.74</text>
<line x1="802.8" y1="1133.8" x2="811.2" y2="1127.4" stroke="#000" stroke-width="3.4" stroke-linecap="butt"/>
<line x1="802.8" y1="1371.1" x2="811.2" y2="1364.7" stroke="#000" stroke-width="3.4" stroke-linecap="butt"/>
<line x1="795" y1="1131" x2="812" y2="1131" stroke="#000" stroke-width="3" stroke-linecap="butt"/>
<line x1="795" y1="1368.3" x2="812" y2="1368.3" stroke="#000" stroke-width="3" stroke-linecap="butt"/>
<line x1="807" y1="1346" x2="842" y2="1380" stroke="#000" stroke-width="3.2" stroke-linecap="butt"/>
<line x1="856" y1="1397" x2="897" y2="1438" stroke="#000" stroke-width="3.2" stroke-linecap="butt"/>
<text x="832.6" y="1392" font-size="19.19" textLength="20.8" lengthAdjust="spacingAndGlyphs" fill="#000" font-weight="bold">0.96</text>
<line x1="791" y1="1357" x2="807" y2="1342" stroke="#000" stroke-width="3.2" stroke-linecap="butt"/>
<line x1="884" y1="1449" x2="902" y2="1433" stroke="#000" stroke-width="3.2" stroke-linecap="butt"/>
<line x1="1076.5" y1="1454.5" x2="996.3" y2="1532.2" stroke="#000" stroke-width="3.2" stroke-linecap="butt"/>
<text x="973" y="1537.8" font-size="16.28" textLength="16" lengthAdjust="spacingAndGlyphs" fill="#000" font-weight="bold">1.79</text>
<line x1="1070" y1="1448" x2="1083" y2="1462" stroke="#000" stroke-width="3.2" stroke-linecap="butt"/>
<line x1="1115" y1="1286.25" x2="1168.75" y2="1286.25" stroke="#000" stroke-width="3.2" stroke-linecap="butt"/>
<line x1="1197.5" y1="1286.25" x2="1348.75" y2="1286.25" stroke="#000" stroke-width="3.2" stroke-linecap="butt"/>
<line x1="1377.5" y1="1286.25" x2="1476.25" y2="1286.25" stroke="#000" stroke-width="3.2" stroke-linecap="butt"/>
<text x="1165" y="1286.25" font-size="20.71" textLength="18.75" lengthAdjust="spacingAndGlyphs" fill="#000" font-weight="bold">1.00</text>
<text x="1363.75" y="1286.25" font-size="20.71" textLength="17.5" lengthAdjust="spacingAndGlyphs" fill="#000" font-weight="bold">1.66</text>
<line x1="1112.2" y1="1290.45" x2="1118.6" y2="1282.05" stroke="#000" stroke-width="3.4" stroke-linecap="butt"/>
<line x1="1247.95" y1="1290.45" x2="1254.35" y2="1282.05" stroke="#000" stroke-width="3.4" stroke-linecap="butt"/>
<line x1="1473.45" y1="1290.45" x2="1479.85" y2="1282.05" stroke="#000" stroke-width="3.4" stroke-linecap="butt"/>
<line x1="1115" y1="1267" x2="1115" y2="1300" stroke="#000" stroke-width="3" stroke-linecap="butt"/>
<line x1="1250.75" y1="1267" x2="1250.75" y2="1292" stroke="#000" stroke-width="3" stroke-linecap="butt"/>
<line x1="1476.25" y1="1267" x2="1476.25" y2="1300" stroke="#000" stroke-width="3" stroke-linecap="butt"/>
<line x1="1115" y1="1442.5" x2="1212.5" y2="1442.5" stroke="#000" stroke-width="3.2" stroke-linecap="butt"/>
<line x1="1242.5" y1="1442.5" x2="1341.25" y2="1442.5" stroke="#000" stroke-width="3.2" stroke-linecap="butt"/>
<line x1="1353.75" y1="1442.5" x2="1398.75" y2="1442.5" stroke="#000" stroke-width="3.2" stroke-linecap="butt"/>
<line x1="1428.75" y1="1442.5" x2="1476.25" y2="1442.5" stroke="#000" stroke-width="3.2" stroke-linecap="butt"/>
<text x="1210" y="1442.5" font-size="20.35" textLength="17.5" lengthAdjust="spacingAndGlyphs" fill="#000" font-weight="bold">1.66</text>
<text x="1397.5" y="1442.5" font-size="20.35" textLength="20" lengthAdjust="spacingAndGlyphs" fill="#000" font-weight="bold">0.90</text>
<line x1="1112.2" y1="1446.7" x2="1118.6" y2="1438.3" stroke="#000" stroke-width="3.4" stroke-linecap="butt"/>
<line x1="1338.2" y1="1446.7" x2="1344.6" y2="1438.3" stroke="#000" stroke-width="3.4" stroke-linecap="butt"/>
<line x1="1350.95" y1="1446.7" x2="1357.35" y2="1438.3" stroke="#000" stroke-width="3.4" stroke-linecap="butt"/>
<line x1="1473.45" y1="1446.7" x2="1479.85" y2="1438.3" stroke="#000" stroke-width="3.4" stroke-linecap="butt"/>
<line x1="1115" y1="1436" x2="1115" y2="1458" stroke="#000" stroke-width="3" stroke-linecap="butt"/>
<line x1="1341" y1="1436" x2="1341" y2="1458" stroke="#000" stroke-width="3" stroke-linecap="butt"/>
<line x1="1353.75" y1="1436" x2="1353.75" y2="1458" stroke="#000" stroke-width="3" stroke-linecap="butt"/>
<line x1="1476.25" y1="1436" x2="1476.25" y2="1458" stroke="#000" stroke-width="3" stroke-linecap="butt"/>
<line x1="1451.25" y1="1252.5" x2="1451.25" y2="1345" stroke="#000" stroke-width="3.2" stroke-linecap="butt"/>
<line x1="1451.25" y1="1368" x2="1451.25" y2="1471.25" stroke="#000" stroke-width="3.2" stroke-linecap="butt"/>
<text x="1432.5" y="1365" font-size="21.8" textLength="18.75" lengthAdjust="spacingAndGlyphs" fill="#000" font-weight="bold">1.60</text>
<line x1="1447.05" y1="1255.3" x2="1455.45" y2="1248.9" stroke="#000" stroke-width="3.4" stroke-linecap="butt"/>
<line x1="1447.05" y1="1474.05" x2="1455.45" y2="1467.65" stroke="#000" stroke-width="3.4" stroke-linecap="butt"/>
<line x1="1447" y1="1253" x2="1463" y2="1253" stroke="#000" stroke-width="3" stroke-linecap="butt"/>
<line x1="1446" y1="1471.25" x2="1463" y2="1471.25" stroke="#000" stroke-width="3" stroke-linecap="butt"/>
<line x1="1496" y1="1215.5" x2="1547" y2="1215.5" stroke="#000" stroke-width="3.2" stroke-linecap="butt"/>
<line x1="1578.5" y1="1215.5" x2="1634.75" y2="1215.5" stroke="#000" stroke-width="3.2" stroke-linecap="butt"/>
<line x1="1651" y1="1215.5" x2="1760" y2="1215.5" stroke="#000" stroke-width="3.2" stroke-linecap="butt"/>
<line x1="1792.5" y1="1215.5" x2="1903.25" y2="1215.5" stroke="#000" stroke-width="3.2" stroke-linecap="butt"/>
<text x="1547" y="1215.5" font-size="20.35" textLength="18" lengthAdjust="spacingAndGlyphs" fill="#000" font-weight="bold">1.00</text>
<text x="1760" y="1215.5" font-size="20.35" textLength="20" lengthAdjust="spacingAndGlyphs" fill="#000" font-weight="bold">1.84</text>
<line x1="1493.2" y1="1219.7" x2="1499.6" y2="1211.3" stroke="#000" stroke-width="3.4" stroke-linecap="butt"/>
<line x1="1629.2" y1="1219.7" x2="1635.6" y2="1211.3" stroke="#000" stroke-width="3.4" stroke-linecap="butt"/>
<line x1="1650.2" y1="1219.7" x2="1656.6" y2="1211.3" stroke="#000" stroke-width="3.4" stroke-linecap="butt"/>
<line x1="1900.45" y1="1219.7" x2="1906.85" y2="1211.3" stroke="#000" stroke-width="3.4" stroke-linecap="butt"/>
<line x1="1496.25" y1="1392.5" x2="1547.5" y2="1392.5" stroke="#000" stroke-width="3.2" stroke-linecap="butt"/>
<line x1="1578.75" y1="1392.5" x2="1634" y2="1392.5" stroke="#000" stroke-width="3.2" stroke-linecap="butt"/>
<line x1="1633.75" y1="1392.5" x2="1750" y2="1392.5" stroke="#000" stroke-width="3.2" stroke-linecap="butt"/>
<line x1="1782.5" y1="1392.5" x2="1903.75" y2="1392.5" stroke="#000" stroke-width="3.2" stroke-linecap="butt"/>
<text x="1546" y="1398" font-size="20.35" textLength="19" lengthAdjust="spacingAndGlyphs" fill="#000" font-weight="bold">1.00</text>
<text x="1750" y="1398" font-size="20.35" textLength="20" lengthAdjust="spacingAndGlyphs" fill="#000" font-weight="bold">2.00</text>
<line x1="1493.45" y1="1396.7" x2="1499.85" y2="1388.3" stroke="#000" stroke-width="3.4" stroke-linecap="butt"/>
<line x1="1629.2" y1="1396.7" x2="1635.6" y2="1388.3" stroke="#000" stroke-width="3.4" stroke-linecap="butt"/>
<line x1="1900.95" y1="1396.7" x2="1907.35" y2="1388.3" stroke="#000" stroke-width="3.4" stroke-linecap="butt"/>
<line x1="1496.25" y1="1382" x2="1496.25" y2="1398" stroke="#000" stroke-width="3" stroke-linecap="butt"/>
<line x1="1633" y1="1382" x2="1633" y2="1398" stroke="#000" stroke-width="3" stroke-linecap="butt"/>
<line x1="1903.75" y1="1382" x2="1903.75" y2="1398" stroke="#000" stroke-width="3" stroke-linecap="butt"/>
<line x1="1530" y1="1371.25" x2="1530" y2="1418" stroke="#000" stroke-width="3.2" stroke-linecap="butt"/>
<line x1="1530" y1="1437" x2="1530" y2="1599" stroke="#000" stroke-width="3.2" stroke-linecap="butt"/>
<line x1="1530" y1="1617" x2="1530" y2="1730" stroke="#000" stroke-width="3.2" stroke-linecap="butt"/>
<text x="1511.25" y="1433" font-size="20.35" textLength="20" lengthAdjust="spacingAndGlyphs" fill="#000" font-weight="bold">0.90</text>
<text x="1511" y="1614" font-size="20.35" textLength="18" lengthAdjust="spacingAndGlyphs" fill="#000" font-weight="bold">1.75</text>
<line x1="1525.8" y1="1374.05" x2="1534.2" y2="1367.65" stroke="#000" stroke-width="3.4" stroke-linecap="butt"/>
<line x1="1525.8" y1="1493.8" x2="1534.2" y2="1487.4" stroke="#000" stroke-width="3.4" stroke-linecap="butt"/>
<line x1="1525.8" y1="1732.8" x2="1534.2" y2="1726.4" stroke="#000" stroke-width="3.4" stroke-linecap="butt"/>
<line x1="1510" y1="1371.25" x2="1534" y2="1371.25" stroke="#000" stroke-width="3" stroke-linecap="butt"/>
<line x1="1515" y1="1730" x2="1534" y2="1730" stroke="#000" stroke-width="3" stroke-linecap="butt"/>
<line x1="1441" y1="1491.25" x2="1530" y2="1491.25" stroke="#000" stroke-width="3" stroke-linecap="butt"/>
<text x="1454" y="1507" font-size="20.35" textLength="23" lengthAdjust="spacingAndGlyphs" fill="#000" font-weight="bold">0.33</text>
<line x1="1451" y1="1508" x2="1455" y2="1499" stroke="#000" stroke-width="3" stroke-linecap="butt"/>
<line x1="1490" y1="1504" x2="1498" y2="1504" stroke="#000" stroke-width="3" stroke-linecap="butt"/>
<line x1="1494" y1="1504" x2="1491" y2="1510" stroke="#000" stroke-width="3" stroke-linecap="butt"/>
<line x1="1646.25" y1="1370" x2="1646.25" y2="1460" stroke="#000" stroke-width="3.2" stroke-linecap="butt"/>
<line x1="1646.25" y1="1482" x2="1646.25" y2="1600" stroke="#000" stroke-width="3.2" stroke-linecap="butt"/>
<line x1="1646.25" y1="1621" x2="1646.25" y2="1651.25" stroke="#000" stroke-width="3.2" stroke-linecap="butt"/>
<text x="1628.75" y="1477" font-size="20.35" textLength="17.5" lengthAdjust="spacingAndGlyphs" fill="#000" font-weight="bold">1.59</text>
<text x="1628.75" y="1616" font-size="20.35" textLength="18.75" lengthAdjust="spacingAndGlyphs" fill="#000" font-weight="bold">0.57</text>
<line x1="1642.05" y1="1582.8" x2="1650.45" y2="1576.4" stroke="#000" stroke-width="3.4" stroke-linecap="butt"/>
<line x1="1642.05" y1="1652.8" x2="1650.45" y2="1646.4" stroke="#000" stroke-width="3.4" stroke-linecap="butt"/>
<line x1="1642" y1="1580" x2="1652" y2="1580" stroke="#000" stroke-width="3" stroke-linecap="butt"/>
<line x1="1642" y1="1651" x2="1652" y2="1651" stroke="#000" stroke-width="3" stroke-linecap="butt"/>
<line x1="1646.25" y1="1370" x2="1653" y2="1370" stroke="#000" stroke-width="3" stroke-linecap="butt"/>
<line x1="1660" y1="1540.75" x2="1676" y2="1540.75" stroke="#000" stroke-width="3.2" stroke-linecap="butt"/>
<line x1="1708" y1="1540.75" x2="1730" y2="1540.75" stroke="#000" stroke-width="3.2" stroke-linecap="butt"/>
<text x="1676.25" y="1542.5" font-size="21.8" textLength="18.75" lengthAdjust="spacingAndGlyphs" fill="#000" font-weight="bold">0.51</text>
<line x1="1657.2" y1="1544.95" x2="1663.6" y2="1536.55" stroke="#000" stroke-width="3.4" stroke-linecap="butt"/>
<line x1="1727.2" y1="1544.95" x2="1733.6" y2="1536.55" stroke="#000" stroke-width="3.4" stroke-linecap="butt"/>
<line x1="1728.75" y1="1537.5" x2="1728.75" y2="1567.5" stroke="#000" stroke-width="3" stroke-linecap="butt"/>
<line x1="1660" y1="1537" x2="1660" y2="1567" stroke="#000" stroke-width="3" stroke-linecap="butt"/>
<line x1="1877.5" y1="1383.75" x2="1797.5" y2="1463.75" stroke="#000" stroke-width="3.2" stroke-linecap="butt"/>
<line x1="1786.25" y1="1476.25" x2="1707.5" y2="1555" stroke="#000" stroke-width="3.2" stroke-linecap="butt"/>
<text x="1773.75" y="1470" font-size="21.8" textLength="17.5" lengthAdjust="spacingAndGlyphs" fill="#000" font-weight="bold">1.82</text>
<line x1="1877" y1="1378" x2="1893" y2="1399" stroke="#000" stroke-width="3.2" stroke-linecap="butt"/>
<line x1="1703" y1="1553" x2="1721" y2="1571" stroke="#000" stroke-width="3.2" stroke-linecap="butt"/>
<line x1="1645" y1="1636.25" x2="1593.75" y2="1687.5" stroke="#000" stroke-width="3.2" stroke-linecap="butt"/>
<line x1="1581.25" y1="1700" x2="1528.75" y2="1752.5" stroke="#000" stroke-width="3.2" stroke-linecap="butt"/>
<text x="1568.75" y="1696" font-size="21.8" textLength="18.75" lengthAdjust="spacingAndGlyphs" fill="#000" font-weight="bold">1.22</text>
<line x1="1639" y1="1630" x2="1652" y2="1644" stroke="#000" stroke-width="3.2" stroke-linecap="butt"/>
<line x1="1524" y1="1746" x2="1535" y2="1758" stroke="#000" stroke-width="3.2" stroke-linecap="butt"/>
<line x1="1452.5" y1="1711.25" x2="1482.5" y2="1711.25" stroke="#000" stroke-width="3.2" stroke-linecap="butt"/>
<line x1="1512.5" y1="1711.25" x2="1545" y2="1711.25" stroke="#000" stroke-width="3.2" stroke-linecap="butt"/>
<text x="1480" y="1712" font-size="20.35" textLength="20" lengthAdjust="spacingAndGlyphs" fill="#000" font-weight="bold">0.67</text>
<line x1="1449.7" y1="1715.45" x2="1456.1" y2="1707.05" stroke="#000" stroke-width="3.4" stroke-linecap="butt"/>
<line x1="1540.2" y1="1715.45" x2="1546.6" y2="1707.05" stroke="#000" stroke-width="3.4" stroke-linecap="butt"/>
<line x1="1465" y1="1729.25" x2="1532" y2="1729.25" stroke="#000" stroke-width="3" stroke-linecap="butt"/>
<line x1="1116.25" y1="1491.25" x2="1116.25" y2="1600" stroke="#000" stroke-width="3.2" stroke-linecap="butt"/>
<line x1="1116.25" y1="1617" x2="1116.25" y2="1730" stroke="#000" stroke-width="3.2" stroke-linecap="butt"/>
<text x="1097.5" y="1614" font-size="21.8" textLength="17.5" lengthAdjust="spacingAndGlyphs" fill="#000" font-weight="bold">1.75</text>
<line x1="1112.05" y1="1494.05" x2="1120.45" y2="1487.65" stroke="#000" stroke-width="3.4" stroke-linecap="butt"/>
<line x1="1112.05" y1="1732.8" x2="1120.45" y2="1726.4" stroke="#000" stroke-width="3.4" stroke-linecap="butt"/>
<line x1="1112" y1="1491.25" x2="1126" y2="1491.25" stroke="#000" stroke-width="3" stroke-linecap="butt"/>
<line x1="1112" y1="1730" x2="1126" y2="1730" stroke="#000" stroke-width="3" stroke-linecap="butt"/>
<line x1="952.5" y1="1641.25" x2="992" y2="1681" stroke="#000" stroke-width="3.2" stroke-linecap="butt"/>
<line x1="1015" y1="1701.25" x2="1065" y2="1750" stroke="#000" stroke-width="3.2" stroke-linecap="butt"/>
<text x="991.25" y="1697" font-size="20.35" textLength="16.25" lengthAdjust="spacingAndGlyphs" fill="#000" font-weight="bold">1.14</text>
<line x1="1058" y1="1754" x2="1070" y2="1748" stroke="#000" stroke-width="3.2" stroke-linecap="butt"/>
<text x="1026" y="1600" font-size="20.35" textLength="18" lengthAdjust="spacingAndGlyphs" fill="#000" font-weight="bold">1.72</text>
<text x="818.75" y="519.5" font-size="24.71" textLength="51.25" lengthAdjust="spacingAndGlyphs" fill="#000" font-weight="bold">TERRA3A</text>
<text x="840" y="762.5" font-size="23.62" textLength="55.5" lengthAdjust="spacingAndGlyphs" fill="#000" font-weight="bold">ESTANCIA</text>
<text x="1247" y="699" font-size="23.98" textLength="75" lengthAdjust="spacingAndGlyphs" fill="#000" font-weight="bold">FAMILY-FLEX</text>
<text x="1667" y="913.5" font-size="23.98" textLength="64" lengthAdjust="spacingAndGlyphs" fill="#000" font-weight="bold">RECAMARA</text>
<text x="875.2" y="1304.8" font-size="23.4" textLength="42.7" lengthAdjust="spacingAndGlyphs" fill="#000" font-weight="bold">COCINA</text>
<text x="1261.25" y="1308.75" font-size="23.62" textLength="28.75" lengthAdjust="spacingAndGlyphs" fill="#000" font-weight="bold">BAÑO</text>
<text x="1562.5" y="1560" font-size="23.62" textLength="28.75" lengthAdjust="spacingAndGlyphs" fill="#000" font-weight="bold">BAÑO</text>
<text x="1760" y="1302.5" font-size="23.62" textLength="12.5" lengthAdjust="spacingAndGlyphs" fill="#000" font-weight="bold">CL</text>
<text x="1021.25" y="1663.75" font-size="23.62" textLength="43.25" lengthAdjust="spacingAndGlyphs" fill="#000" font-weight="bold">LAVADO</text>
<path d="M1615,1228.75 A124,125 0 0 0 1491,1103.75" fill="none" stroke="#000" stroke-width="3.2"/>
<line x1="1476" y1="1228.75" x2="1615" y2="1228.75" stroke="#000" stroke-width="3.2" stroke-linecap="butt"/>
<rect x="1476" y="1223" width="22" height="13" fill="none" stroke="#000" stroke-width="2.2"/>
<rect x="1476" y="1093" width="22" height="12" fill="none" stroke="#000" stroke-width="2.2"/>
<path d="M1121.25,1372.25 A124,116 0 0 0 1245.25,1256.25" fill="none" stroke="#000" stroke-width="3.2"/>
<line x1="1121.25" y1="1256" x2="1121.25" y2="1372.5" stroke="#000" stroke-width="3.2" stroke-linecap="butt"/>
<rect x="1116" y="1233.75" width="6.5" height="22.25" fill="#fff" stroke="#000" stroke-width="2.2"/>
<rect x="1245" y="1233.75" width="7.5" height="22.25" fill="#fff" stroke="#000" stroke-width="2.2"/>
<path d="M1355,1350 A81.25,93.75 0 0 0 1436.25,1256.25" fill="none" stroke="#000" stroke-width="3.2"/>
<path d="M1502.5,1488.5 A127,126 0 0 0 1629.5,1362.5" fill="none" stroke="#000" stroke-width="3.2"/>
<line x1="1502.5" y1="1372.5" x2="1502.5" y2="1488.75" stroke="#000" stroke-width="3.2" stroke-linecap="butt"/>
<rect x="1492.5" y="1350" width="11.25" height="22.5" fill="#fff" stroke="#000" stroke-width="2.2"/>
<rect x="1629" y="1350" width="8" height="22.5" fill="#fff" stroke="#000" stroke-width="2.2"/>
<path d="M1672.5,1466.25 A81.25,93.75 0 0 0 1753.75,1372.5" fill="none" stroke="#000" stroke-width="3.2"/>
<path d="M821,1550 A118,118 0 0 1 986,1538" fill="none" stroke="#000" stroke-width="3.2"/>
<polyline points="986,1539 999.6,1550.2 913.7,1635.6" fill="none" stroke="#000" stroke-width="3.2" stroke-linejoin="miter"/>
<polyline points="985,1544 905,1623 915.7,1632" fill="none" stroke="#000" stroke-width="3.2" stroke-linejoin="miter"/>
<line x1="901" y1="1617" x2="906" y2="1630" stroke="#000" stroke-width="3.2" stroke-linecap="butt"/>
<line x1="786.25" y1="571.25" x2="817.5" y2="571.25" stroke="#000" stroke-width="3.2" stroke-linecap="butt"/>
<polyline points="808,563.25 817.5,571.25 808,579.25" fill="none" stroke="#000" stroke-width="3.2" stroke-linejoin="miter"/>
<line x1="1377" y1="571" x2="1348.5" y2="571" stroke="#000" stroke-width="3.2" stroke-linecap="butt"/>
<polyline points="1358,563 1348.5,571 1358,579" fill="none" stroke="#000" stroke-width="3.2" stroke-linejoin="miter"/>
<line x1="1805" y1="571" x2="1775" y2="571" stroke="#000" stroke-width="3.2" stroke-linecap="butt"/>
<polyline points="1784.5,563 1775,571 1784.5,579" fill="none" stroke="#000" stroke-width="3.2" stroke-linejoin="miter"/>
<line x1="1246.7" y1="1060.3" x2="1216.7" y2="1060.3" stroke="#000" stroke-width="3.2" stroke-linecap="butt"/>
<polyline points="1226.2,1052.3 1216.7,1060.3 1226.2,1068.3" fill="none" stroke="#000" stroke-width="3.2" stroke-linejoin="miter"/>
<line x1="1345.3" y1="1060.3" x2="1376.3" y2="1060.3" stroke="#000" stroke-width="3.2" stroke-linecap="butt"/>
<polyline points="1366.8,1052.3 1376.3,1060.3 1366.8,1068.3" fill="none" stroke="#000" stroke-width="3.2" stroke-linejoin="miter"/>
<line x1="1027.5" y1="1592" x2="1047.5" y2="1573.25" stroke="#000" stroke-width="3.2" stroke-linecap="butt"/>
<polyline points="1037.5,1573.25 1047.5,1573.25 1047.5,1583" fill="none" stroke="#000" stroke-width="3.2" stroke-linejoin="miter"/>
<line x1="1000" y1="1621" x2="978.5" y2="1641.5" stroke="#000" stroke-width="3.2" stroke-linecap="butt"/>
<polyline points="978.5,1630 978.5,1641.5 990,1641.5" fill="none" stroke="#000" stroke-width="3.2" stroke-linejoin="miter"/>
</svg>
</body></html>
